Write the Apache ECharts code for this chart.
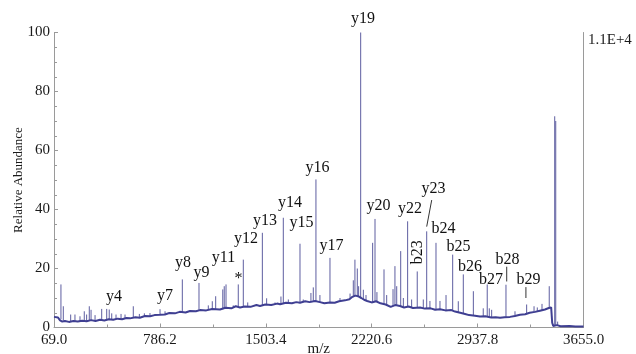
<!DOCTYPE html>
<html>
<head>
<meta charset="utf-8">
<script src="https://cdn.jsdelivr.net/npm/echarts@6/dist/echarts.min.js"></script>
<style>
  html, body { margin: 0; padding: 0; background: #fff; }
  #chart { width: 636px; height: 354px; }
</style>
</head>
<body>
<div id="chart"></div>
<script>
// ---- data ----
const mzMin = 69.0;
const mzMax = 3655.0;
const tickLabels = ['69.0', '786.2', '1503.4', '2220.6', '2937.8', '3655.0'];
const yTicks = [0, 20, 40, 60, 80, 100];
const normLabel = '1.1E+4';

// noisy baseline [m/z, relative abundance]
const baseline = [
  [69,3.6],[80,3.2],[96,3.4],[110,2.4],[125,2.0],[143,2.2],[170,1.9],[200,2.2],[230,2.0],[260,2.3],
  [290,2.1],[320,2.5],[350,2.2],[381,2.6],[410,2.4],[440,2.8],[470,2.6],[500,3.0],[530,2.8],[560,3.2],
  [584,3.1],[620,3.5],[650,3.3],[685,3.9],[720,3.8],[750,4.2],[787,4.3],[820,4.4],[850,4.9],[888,4.8],
  [920,5.3],[960,5.1],[990,5.6],[1030,5.5],[1058,5.9],[1100,5.8],[1140,6.3],[1193,6.1],[1230,6.7],[1270,6.5],
  [1300,7.2],[1329,6.8],[1360,7.1],[1400,7.0],[1440,7.6],[1464,7.3],[1500,7.8],[1540,7.6],[1580,8.1],[1600,7.9],
  [1640,8.4],[1680,8.2],[1710,8.6],[1735,8.4],[1770,8.9],[1800,8.6],[1837,9.0],[1870,8.6],[1900,8.2],[1938,8.5],
  [1970,8.4],[2000,8.9],[2040,9.2],[2070,9.6],[2090,10.4],[2110,10.8],[2128,10.6],[2150,10.0],[2169,9.4],[2190,9.0],
  [2220,8.5],[2250,8.9],[2280,8.2],[2315,7.8],[2349,7.0],[2380,7.6],[2412,7.3],[2440,6.8],[2470,7.1],[2500,6.6],
  [2548,6.8],[2580,6.4],[2620,6.5],[2650,6.0],[2683,6.2],[2720,5.8],[2760,5.9],[2785,5.4],[2820,5.0],[2853,4.6],
  [2880,4.2],[2920,4.0],[2954,3.7],[2990,3.8],[3030,3.4],[3060,3.5],[3090,3.3],[3120,3.5],[3157,3.6],[3190,3.9],
  [3225,4.3],[3260,4.5],[3290,5.0],[3327,5.3],[3360,5.7],[3394,6.1],[3420,6.6],[3436,6.8],[3443,1.6],[3450,0.5],
  [3475,0.8],[3500,0.4],[3560,0.5],[3600,0.3],[3655,0.3]
];

// peaks [m/z, top, base]
const peaks = [
  [116,14.6,2.8],[132,7.2,2.4],[182,4.4,2.1],[211,4.4,2.1],[245,3.8,2.1],[274,5.5,2.2],[290,4.4,2.1],
  [308,7.2,2.3],[320,6.0,2.4],[347,4.2,2.3],[392,6.3,2.5],[426,6.3,2.5],[443,6.1,2.6],[460,4.8,2.7],
  [489,4.4,2.8],[523,4.6,2.9],[550,4.4,3.0],[606,7.2,3.3],[647,4.6,3.4],[681,4.8,3.8],[719,4.9,3.9],
  [787,6.2,4.3],[821,5.5,4.4],[938,16.3,5.2],[1051,15.1,5.8],[1114,7.5,5.9],[1141,8.9,6.2],[1164,10.6,6.2],
  [1212,12.9,6.2],[1222,14.0,6.3],[1234,14.6,6.4],[1283,7.5,6.8],[1317,14.6,6.9],[1351,23.0,7.0],[1381,8.5,7.0],
  [1480,32.1,7.6],[1509,9.9,7.8],[1566,8.5,7.9],[1606,10.5,7.9],[1622,37.2,8.0],[1656,9.5,8.3],[1735,28.4,8.4],
  [1757,9.5,8.6],[1809,11.7,8.7],[1825,13.6,8.8],[1843,50.2,8.9],[1870,11.0,8.6],[1938,23.6,8.5],[2006,10.0,8.9],
  [2074,11.5,9.7],[2096,16.0,10.3],[2107,23.0,10.7],[2123,20.0,10.7],[2132,14.0,10.5],[2146,100,10.1],
  [2164,12.8,9.4],[2182,11.0,9.1],[2227,28.7,8.6],[2243,36.8,8.7],[2256,12.0,8.7],[2304,19.7,8.0],[2322,11.0,7.6],
  [2365,13.0,7.3],[2378,20.8,7.6],[2390,14.0,7.5],[2417,25.9,7.2],[2435,10.0,7.0],[2464,36.0,7.0],[2491,9.5,6.8],
  [2529,19.0,6.7],[2570,9.5,6.5],[2593,32.6,6.4],[2615,9.0,6.4],[2656,28.7,6.1],[2683,9.0,6.2],[2724,11.0,5.8],
  [2769,24.7,5.8],[2807,8.9,5.2],[2841,18.0,4.9],[2909,12.3,4.1],[2976,6.5,3.7],[3003,14.6,3.6],[3017,6.5,3.6],
  [3033,6.0,3.4],[3130,14.5,3.5],[3191,5.5,3.9],[3270,7.8,4.5],[3320,7.2,5.2],[3342,6.8,5.4],[3374,8.0,5.8],
  [3423,14.0,6.6],[3460,71.6,0.6],[3467,70.0,0.6],[3480,2.0,0.7]
];

// ion labels [text, m/z, abundance]
const ionLabels = [
  ['y4',475,10.5],['y7',821,10.9],['y8',943,21.9],['y9',1068,18.5],['y11',1217,23.6],['*',1318,16.4],
  ['y12',1369,30.0],['y13',1498,36.2],['y14',1667,42.3],['y15',1745,35.5],['y16',1853,54.3],['y17',1948,27.7],
  ['y19',2161,104.7],['y20',2266,41.2],['y22',2480,40.4],['y23',2639,47.0],['b23',2530,25.5],['b24',2707,33.3],
  ['b25',2808,27.2],['b26',2886,20.7],['b27',3028,16.3],['b28',3140,23.1],['b29',3282,16.1]
];

// leader lines [m/z1, y1, m/z2, y2]
const leaders = [
  [2593,34.2,2627,43.2],
  [3135,15.6,3135,20.6],
  [3265,10.0,3265,13.7]
];

// ---- chart ----
const SERIF = '"Liberation Serif", "Times New Roman", serif';
const span = mzMax - mzMin;
const step = span / (tickLabels.length - 1);

const chart = echarts.init(document.getElementById('chart'), null, { renderer: 'canvas' });

const option = {
  animation: false,
  grid: { left: 54, right: 52.5, top: 32.5, bottom: 26.5, containLabel: false, outerBoundsMode: 'none' },
  xAxis: {
    type: 'value',
    min: 0,
    max: span,
    interval: step,
    axisLine: { show: true, lineStyle: { color: '#9a9a9a', width: 1 } },
    axisTick: { show: true, inside: true, length: 4, lineStyle: { color: '#9a9a9a' } },
    minorTick: { show: true, splitNumber: 2, length: 3, lineStyle: { color: '#9a9a9a' } },
    splitLine: { show: false },
    axisLabel: {
      margin: 5,
      color: '#1a1a1a',
      fontFamily: SERIF,
      fontSize: 15,
      formatter: function (v) { return tickLabels[Math.round(v / step)]; }
    },
    name: 'm/z',
    nameLocation: 'middle',
    nameGap: 14,
    nameMoveOverlap: false,
    nameTextStyle: { color: '#1a1a1a', fontFamily: SERIF, fontSize: 15 }
  },
  yAxis: [{
    type: 'value',
    min: yTicks[0],
    max: yTicks[yTicks.length - 1],
    interval: yTicks[1] - yTicks[0],
    axisLine: { show: true, lineStyle: { color: '#9a9a9a', width: 1 } },
    axisTick: { show: true, inside: true, length: 4, lineStyle: { color: '#9a9a9a' } },
    minorTick: { show: true, splitNumber: 4, length: 3, lineStyle: { color: '#9a9a9a' } },
    splitLine: { show: false },
    axisLabel: { margin: 4, color: '#1a1a1a', fontFamily: SERIF, fontSize: 15 },
    name: 'Relative Abundance',
    nameLocation: 'middle',
    nameGap: 29,
    nameMoveOverlap: false,
    nameTextStyle: { color: '#1a1a1a', fontFamily: SERIF, fontSize: 13 }
  }, {
    type: 'value',
    position: 'right',
    min: yTicks[0],
    max: yTicks[yTicks.length - 1],
    interval: yTicks[1] - yTicks[0],
    axisLine: { show: true, lineStyle: { color: '#9a9a9a', width: 1 } },
    axisTick: { show: false },
    splitLine: { show: false },
    axisLabel: {
      margin: 4.5,
      color: '#1a1a1a',
      fontFamily: SERIF,
      fontSize: 15,
      verticalAlign: 'top',
      formatter: function (v) { return v === yTicks[yTicks.length - 1] ? normLabel : ''; }
    }
  }],
  series: [
    {
      type: 'custom',
      name: 'peaks',
      coordinateSystem: 'cartesian2d',
      encode: { x: 0, y: [1, 2] },
      data: peaks.map(p => [p[0] - mzMin, p[1], p[2]]),
      z: 2,
      renderItem: function (params, api) {
        const x = api.value(0);
        const p0 = api.coord([x, api.value(2)]);
        const p1 = api.coord([x, api.value(1)]);
        return {
          type: 'line',
          shape: { x1: p0[0], y1: p0[1], x2: p1[0], y2: p1[1] },
          style: { stroke: '#5e5ea0', lineWidth: 1 }
        };
      }
    },
    {
      type: 'line',
      name: 'baseline',
      data: baseline.map(p => [p[0] - mzMin, p[1]]),
      showSymbol: false,
      symbol: 'none',
      lineStyle: { color: '#3f3f92', width: 2 },
      z: 3
    },
    {
      type: 'custom',
      name: 'leaders',
      coordinateSystem: 'cartesian2d',
      data: leaders.map(l => [l[0] - mzMin, l[1], l[2] - mzMin, l[3]]),
      z: 4,
      renderItem: function (params, api) {
        const a = api.coord([api.value(0), api.value(1)]);
        const b = api.coord([api.value(2), api.value(3)]);
        return {
          type: 'line',
          shape: { x1: a[0], y1: a[1], x2: b[0], y2: b[1] },
          style: { stroke: '#333', lineWidth: 1 }
        };
      }
    },
    {
      type: 'custom',
      name: 'labels',
      coordinateSystem: 'cartesian2d',
      clip: false,
      data: ionLabels.map(l => [l[1] - mzMin, l[2]]),
      z: 5,
      renderItem: function (params, api) {
        const c = api.coord([api.value(0), api.value(1)]);
        const txt = ionLabels[params.dataIndex][0];
        return {
          type: 'text',
          x: c[0],
          y: c[1],
          rotation: txt === 'b23' ? Math.PI / 2 : 0,
          style: {
            text: txt,
            fill: '#111',
            font: '16px ' + SERIF,
            align: 'center',
            verticalAlign: 'middle'
          }
        };
      }
    }
  ]
};

chart.setOption(option);
</script>
</body>
</html>
